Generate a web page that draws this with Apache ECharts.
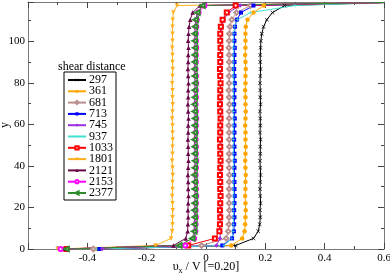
<!DOCTYPE html>
<html><head><meta charset="utf-8">
<script src="https://cdn.jsdelivr.net/npm/echarts@6/dist/echarts.min.js"></script>
<style>html,body{margin:0;padding:0;background:#fff}#c{width:390px;height:275px}</style>
</head><body><div id="c"></div>
<script>
// y positions of the profile samples (shared by all series)
const yPos = [0, 1.7, 5.1, 8.5, 11.9, 15.3, 18.7, 22.1, 25.5, 28.9, 32.3, 35.7, 39.1, 42.5, 45.9, 49.3, 52.7, 56.1, 59.5, 62.9, 66.3, 69.7, 73.1, 76.5, 79.9, 83.3, 86.7, 90.1, 93.5, 96.9, 100.3, 103.7, 107.1, 110.5, 113.9, 117.3, 118.8];
const seriesNames = ['297','361','681','713','745','937','1033','1801','2121','2153','2377'];
// velocity values (x) at each y position
const v297 = [-0.36, 0.100, 0.160, 0.176, 0.181, 0.183, 0.182, 0.184, 0.183, 0.182, 0.183, 0.184, 0.183, 0.182, 0.183, 0.183, 0.184, 0.182, 0.183, 0.183, 0.182, 0.184, 0.183, 0.183, 0.182, 0.183, 0.184, 0.183, 0.183, 0.184, 0.185, 0.188, 0.194, 0.205, 0.224, 0.265, 0.62];
const v361 = [-0.37, 0.085, 0.122, 0.130, 0.132, 0.133, 0.134, 0.133, 0.132, 0.133, 0.133, 0.134, 0.133, 0.132, 0.133, 0.134, 0.133, 0.133, 0.132, 0.133, 0.134, 0.133, 0.133, 0.132, 0.133, 0.133, 0.134, 0.133, 0.132, 0.133, 0.133, 0.133, 0.134, 0.140, 0.160, 0.195, 0.62];
const v681 = [-0.38, -0.015, 0.068, 0.075, 0.077, 0.078, 0.079, 0.078, 0.077, 0.078, 0.078, 0.079, 0.078, 0.077, 0.078, 0.079, 0.078, 0.078, 0.077, 0.078, 0.078, 0.079, 0.078, 0.077, 0.078, 0.078, 0.079, 0.078, 0.078, 0.077, 0.078, 0.079, 0.081, 0.087, 0.103, 0.150, 0.62];
const v713 = [-0.36, 0.055, 0.088, 0.094, 0.095, 0.096, 0.095, 0.096, 0.097, 0.096, 0.096, 0.095, 0.096, 0.097, 0.096, 0.096, 0.095, 0.096, 0.096, 0.097, 0.096, 0.095, 0.096, 0.096, 0.097, 0.096, 0.095, 0.096, 0.096, 0.097, 0.096, 0.096, 0.098, 0.104, 0.118, 0.160, 0.62];
const v745 = [-0.35, 0.035, 0.047, 0.049, 0.050, 0.050, 0.051, 0.050, 0.049, 0.050, 0.050, 0.051, 0.050, 0.049, 0.050, 0.050, 0.051, 0.050, 0.050, 0.049, 0.050, 0.051, 0.050, 0.050, 0.049, 0.050, 0.050, 0.051, 0.050, 0.049, 0.050, 0.051, 0.053, 0.060, 0.076, 0.115, 0.62];
const v937 = [-0.37, 0.060, 0.087, 0.091, 0.092, 0.093, 0.092, 0.093, 0.094, 0.093, 0.093, 0.092, 0.093, 0.094, 0.093, 0.093, 0.092, 0.093, 0.093, 0.094, 0.093, 0.092, 0.093, 0.093, 0.094, 0.093, 0.092, 0.093, 0.093, 0.094, 0.093, 0.094, 0.097, 0.106, 0.150, 0.300, 0.62];
const v1033 = [-0.47, -0.060, 0.030, 0.045, 0.047, 0.048, 0.047, 0.048, 0.049, 0.048, 0.048, 0.047, 0.048, 0.049, 0.048, 0.048, 0.047, 0.048, 0.048, 0.049, 0.048, 0.047, 0.048, 0.048, 0.049, 0.048, 0.047, 0.048, 0.048, 0.049, 0.048, 0.048, 0.050, 0.056, 0.070, 0.100, 0.62];
const v1801 = [-0.50, -0.170, -0.118, -0.114, -0.113, -0.113, -0.112, -0.113, -0.114, -0.113, -0.113, -0.112, -0.113, -0.114, -0.113, -0.113, -0.112, -0.113, -0.113, -0.114, -0.113, -0.112, -0.113, -0.113, -0.114, -0.113, -0.112, -0.113, -0.113, -0.114, -0.113, -0.113, -0.113, -0.112, -0.110, -0.098, 0.62];
const v2121 = [-0.48, -0.110, -0.068, -0.062, -0.061, -0.060, -0.061, -0.060, -0.059, -0.060, -0.060, -0.061, -0.060, -0.059, -0.060, -0.060, -0.061, -0.060, -0.060, -0.059, -0.060, -0.061, -0.060, -0.060, -0.059, -0.060, -0.061, -0.060, -0.060, -0.059, -0.060, -0.059, -0.057, -0.053, -0.045, -0.020, 0.62];
const v2153 = [-0.49, -0.070, -0.040, -0.036, -0.035, -0.034, -0.035, -0.034, -0.033, -0.034, -0.034, -0.035, -0.034, -0.033, -0.034, -0.034, -0.035, -0.034, -0.034, -0.033, -0.034, -0.035, -0.034, -0.034, -0.033, -0.034, -0.035, -0.034, -0.034, -0.033, -0.034, -0.034, -0.033, -0.031, -0.025, -0.005, 0.62];
const v2377 = [-0.47, -0.090, -0.046, -0.040, -0.039, -0.038, -0.039, -0.038, -0.037, -0.038, -0.038, -0.039, -0.038, -0.037, -0.038, -0.038, -0.039, -0.038, -0.038, -0.037, -0.038, -0.039, -0.038, -0.038, -0.037, -0.038, -0.039, -0.038, -0.038, -0.037, -0.038, -0.038, -0.037, -0.035, -0.029, -0.012, 0.62];
const xTicks = [-0.6, 0.6, 0.2];
const yTicks = [0, 119, 20];

const values = [v297, v361, v681, v713, v745, v937, v1033, v1801, v2121, v2153, v2377];
const CROSS = 'path://M0,1L1,0L5,4L9,0L10,1L6,5L10,9L9,10L5,6L1,10L0,9L4,5Z';
const PLUS = 'path://M4.3,0H5.7V4.3H10V5.7H5.7V10H4.3V5.7H0V4.3H4.3Z';
const styles = [
  {color:'#000000', symbol:CROSS, size:4},
  {color:'#ffa500', symbol:'circle', size:4.5},
  {color:'#bc8f8f', symbol:'emptyDiamond', size:4.5},
  {color:'#0000ff', symbol:'rect', size:4},
  {color:'#9b30e0', symbol:'diamond', size:4.5},
  {color:'#40e0d0', symbol:PLUS, size:4},
  {color:'#ff0000', symbol:'emptyRect', size:4},
  {color:'#ffb020', symbol:'triangle', size:4.5, rot:180},
  {color:'#670748', symbol:'triangle', size:4.5},
  {color:'#ff00ff', symbol:'emptyCircle', size:4},
  {color:'#2e8b2e', symbol:'emptyTriangle', size:4.5, rot:90}
];
const FONT = 'Liberation Serif';
const series = seriesNames.map((n,i)=>({
  name:n, type:'line', xAxisIndex:0, yAxisIndex:0,
  data: values[i].map((x,k)=>[x, yPos[k]]),
  symbol: styles[i].symbol, symbolSize: styles[i].size, symbolRotate: styles[i].rot||0,
  showAllSymbol:true, clip:true,
  lineStyle:{color:styles[i].color, width:1},
  itemStyle:{color:styles[i].color, borderColor:styles[i].color, borderWidth: styles[i].symbol.startsWith('empty')?0.8:0},
  emphasis:{disabled:true}
}));
const axisGray = '#7a7a7a';
function xAx(pos, show){
  return {type:'value', position:pos, min:xTicks[0], max:xTicks[1], interval:xTicks[2],
    axisLine:{show:true, onZero:false, lineStyle:{color:axisGray, width:1}},
    axisTick:{show:true, inside:true, length:6, lineStyle:{color:'#444'}},
    minorTick:{show:true, splitNumber:2, length:3, lineStyle:{color:'#444'}},
    splitLine:{show:false},
    axisLabel:{show:show, showMinLabel:false, margin:4, fontFamily:FONT, fontSize:11, color:'#000'}
  };
}
function yAx(pos, show){
  return {type:'value', position:pos, min:yTicks[0], max:yTicks[1], interval:yTicks[2],
    axisLine:{show:true, onZero:false, lineStyle:{color:axisGray, width:1}},
    axisTick:{show:true, inside:true, length:6, lineStyle:{color:'#444'}},
    minorTick:{show:true, splitNumber:2, length:3, lineStyle:{color:'#444'}},
    splitLine:{show:false},
    axisLabel:{show:show, showMaxLabel:false, margin:3, fontFamily:FONT, fontSize:11, color:'#000'}
  };
}
const chart = echarts.init(document.getElementById('c'), null, {renderer:'canvas'});
chart.setOption({
  animation:false,
  backgroundColor:'#fff',
  grid:{left:28, right:6, top:2, bottom:26, containLabel:false, outerBoundsMode:'none'},
  xAxis:[xAx('bottom', true), xAx('top', false)],
  yAxis:[yAx('left', true), yAx('right', false)],
  legend:{
    data: seriesNames, orient:'vertical', left:64, top:72,
    padding:[2,3,1,3], itemGap:-0.7, itemWidth:18, itemHeight:4,
    backgroundColor:'#fff', borderColor:'#000', borderWidth:1, borderRadius:0,
    textStyle:{fontFamily:FONT, fontSize:12, lineHeight:11.3, color:'#000', padding:[0,0,0,-2]},
    selectedMode:false
  },
  graphic:[
    {type:'text', left:58, top:61, style:{text:'shear distance', font:'12px "Liberation Serif"', fill:'#000'}},
    {type:'text', x:5, y:125, rotation:Math.PI/2, style:{text:'y', font:'12px "Liberation Serif"', fill:'#000', align:'center', verticalAlign:'middle'}},
    {type:'text', x:206, y:267, style:{
      text:'{v|υ}{s|x}{n| / V [=0.20]}', align:'center', verticalAlign:'middle',
      rich:{v:{fontFamily:FONT,fontSize:12,fill:'#000'}, s:{fontFamily:FONT,fontSize:8,fill:'#000',padding:[7,0,0,0]}, n:{fontFamily:FONT,fontSize:12,fill:'#000'}}
    }}
  ],
  series: series
});
</script></body></html>
